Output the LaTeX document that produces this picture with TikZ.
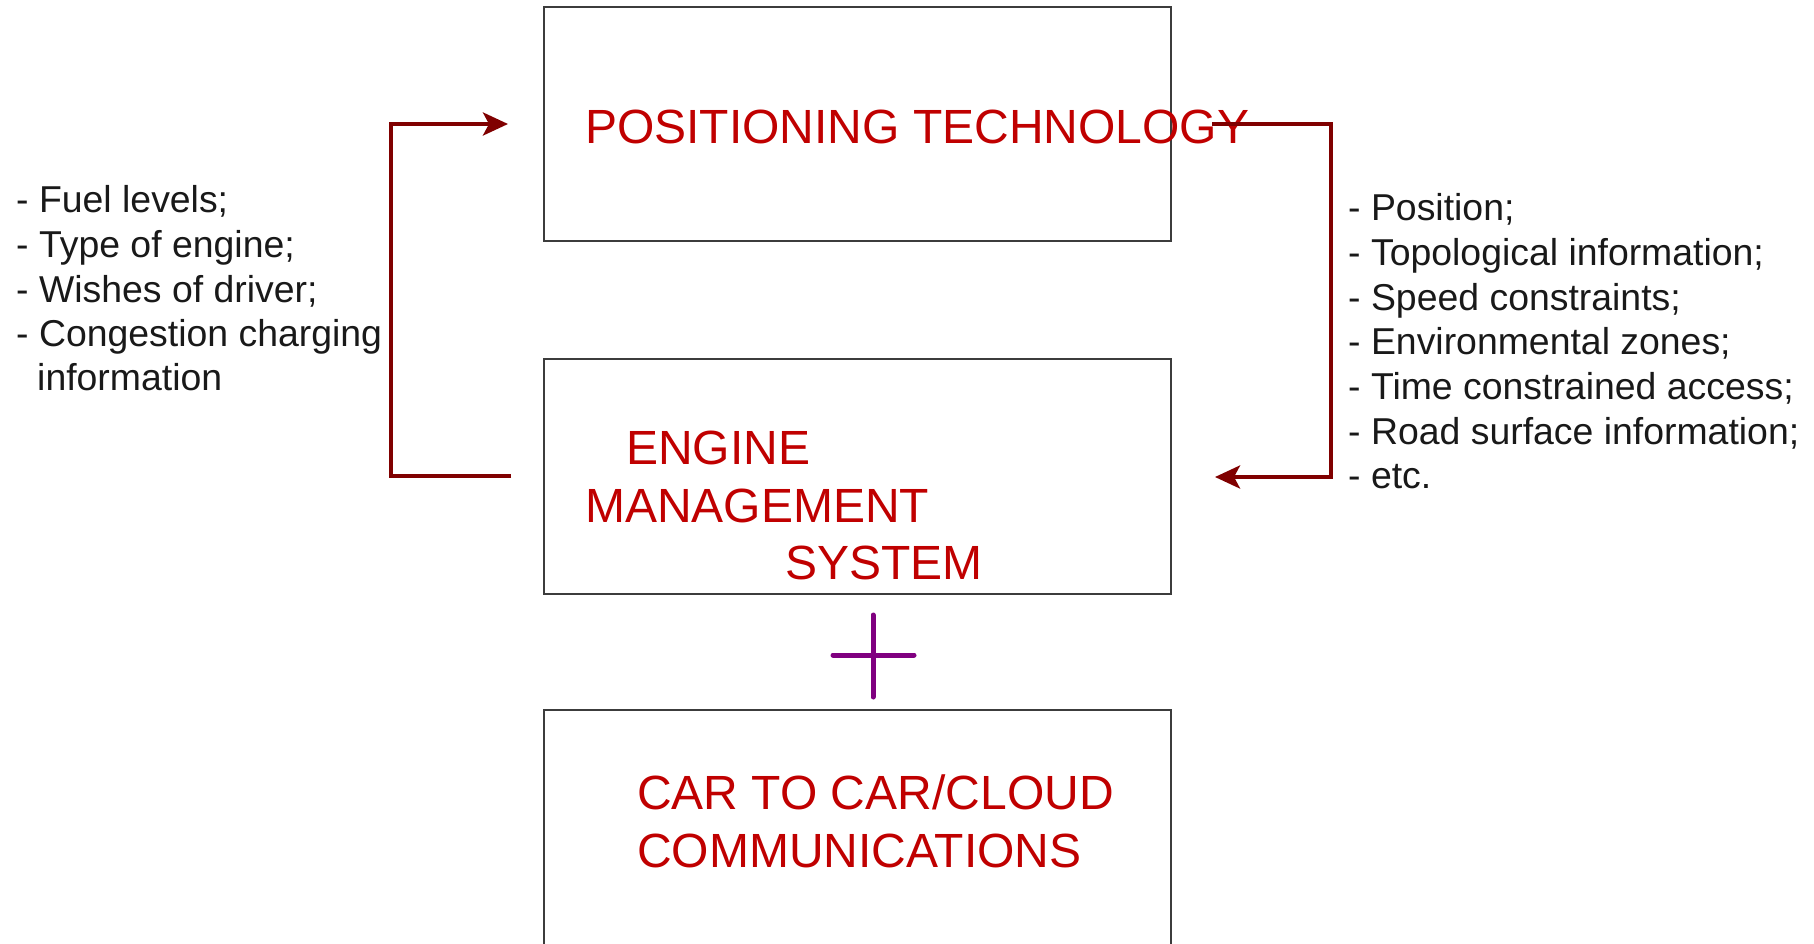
\documentclass[tikz,border=0pt]{standalone}
\usepackage{fontspec}
\setmainfont{Liberation Sans}
\usetikzlibrary{arrows.meta}
\definecolor{boxline}{RGB}{60,60,60}
\definecolor{titlered}{RGB}{192,0,0}
\definecolor{arrowred}{RGB}{128,0,0}
\definecolor{plusviolet}{RGB}{128,0,128}
\tikzset{
  bigbox/.style={draw=boxline, line width=2pt, minimum width=627pt, inner sep=0pt, fill=white},
  title/.style={anchor=base west, inner sep=0pt, text=titlered, font=\fontsize{48}{58}\selectfont},
  listline/.style={anchor=base west, inner sep=0pt, text=black!90, font=\fontsize{37.4}{44}\selectfont},
  feed/.style={draw=arrowred, line width=4pt, line join=miter, -{Stealth[length=25pt,width=23pt,inset=6pt]}},
  plusline/.style={draw=plusviolet, line width=5pt, line cap=round}
}
\begin{document}
\begin{tikzpicture}[x=1pt,y=-1pt]
\useasboundingbox (0,0) rectangle (1814,943);
\clip (0,0) rectangle (1814,943);
% boxes
\node[bigbox, minimum height=234pt] (pos) at (857.5,124) {};
\node[bigbox, minimum height=235pt] (ems) at (857.5,476.5) {};
\node[bigbox, minimum height=260pt] (c2c) at (857.5,840) {};
% box titles
\node[title] (posT) at (585,143) {POSITIONING TECHNOLOGY};
\node[title] (emsA) at (626,464) {ENGINE};
\node[title] (emsB) at (585,522) {MANAGEMENT};
\node[title] (emsC) at (785,579) {SYSTEM};
\node[title] (c2cA) at (637,809) {CAR TO CAR/CLOUD};
\node[title] (c2cB) at (637,867) {COMMUNICATIONS};
% plus sign
\draw[plusline] (833,655) -- (914,655);
\draw[plusline] (873,615) -- (873,697);
% connectors
\coordinate (lStart) at (511,476);
\coordinate (lEnd) at (508,124);
\coordinate (lCorner) at (391,476);
\coordinate (rStart) at (1212,124);
\coordinate (rEnd) at (1215,477);
\coordinate (rCorner) at (1331,124);
\draw[feed] (lStart) -- (lCorner) |- (lEnd);
\draw[feed] (rStart) -- (rCorner) |- (rEnd);
% left list
\node[listline] (in1) at (16,212) {- Fuel levels;};
\node[listline] (in2) at (16,257) {- Type of engine;};
\node[listline] (in3) at (16,302) {- Wishes of driver;};
\node[listline] (in4) at (16,346) {- Congestion charging};
\node[listline] (in5) at (37,390) {information};
% right list
\node[listline] (out1) at (1348,220) {- Position;};
\node[listline] (out2) at (1348,265) {- Topological information;};
\node[listline] (out3) at (1348,310) {- Speed constraints;};
\node[listline] (out4) at (1348,354) {- Environmental zones;};
\node[listline] (out5) at (1348,399) {- Time constrained access;};
\node[listline] (out6) at (1348,444) {- Road surface information;};
\node[listline] (out7) at (1348,488) {- etc.};
\end{tikzpicture}
\end{document}
